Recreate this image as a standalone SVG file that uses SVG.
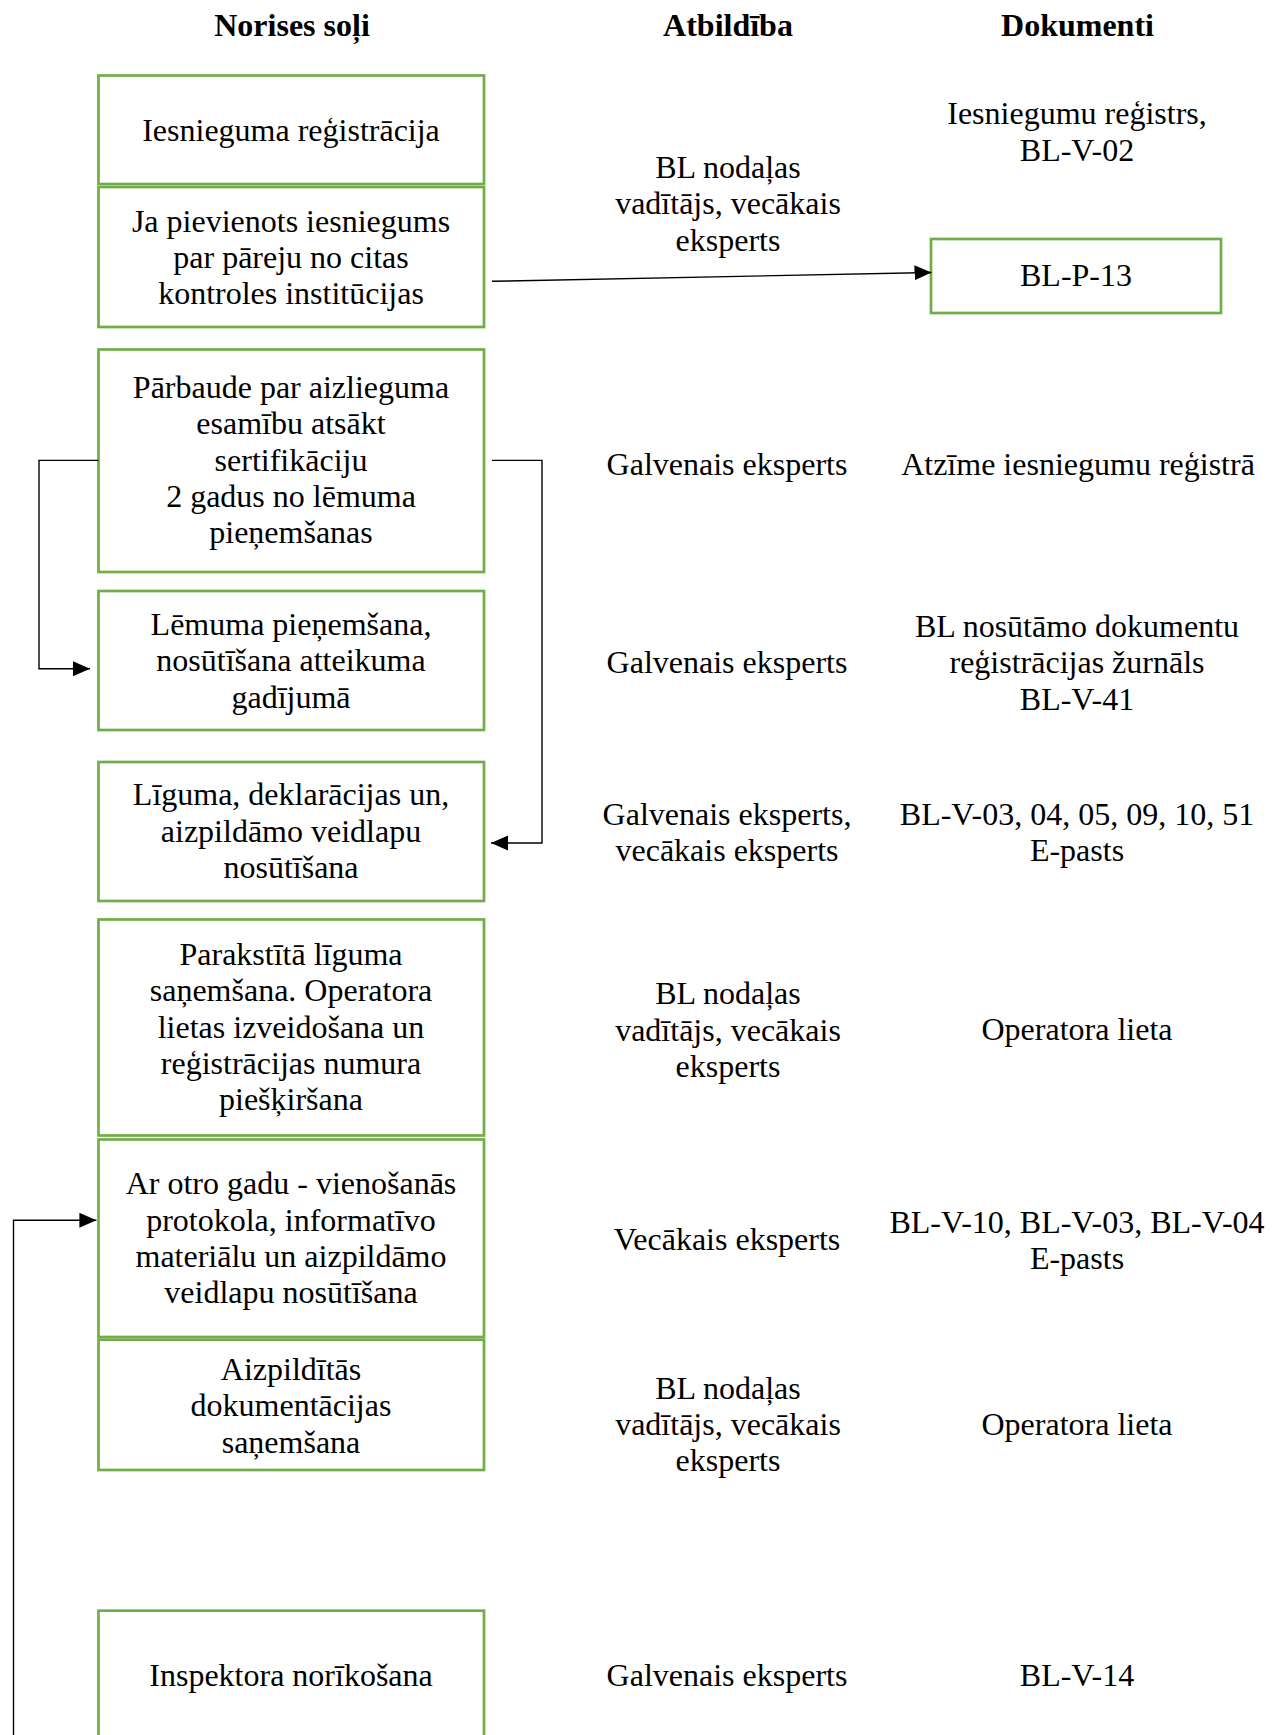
<svg xmlns="http://www.w3.org/2000/svg" width="1286" height="1735" viewBox="0 0 1286 1735">
<style>
text{font-family:"Liberation Serif","Times New Roman",serif;font-size:32px;fill:#000;text-anchor:middle}
.h{font-weight:bold}
.box{fill:#fff;stroke:#70AD47;stroke-width:2.7}
.con{fill:none;stroke:#000;stroke-width:1.4}
</style>
<defs>
<marker id="arr" markerUnits="userSpaceOnUse" markerWidth="18" markerHeight="16" refX="17" refY="7.5" orient="auto">
<path d="M0,0 L17,7.5 L0,15 Z" fill="#000"/>
</marker>
</defs>
<rect width="1286" height="1735" fill="#fff"/>
<g id="headers">
<text class="h" x="292" y="36.4">Norises soļi</text>
<text class="h" x="728" y="36.4">Atbildība</text>
<text class="h" x="1077.5" y="36.4">Dokumenti</text>
</g>
<g id="n1"><rect class="box" x="98.5" y="75.5" width="385.5" height="108.5"/><text x="291" y="140.8">Iesnieguma reģistrācija</text></g>
<g id="n2"><rect class="box" x="98.5" y="187" width="385.5" height="140"/><text x="291" y="231.5">Ja pievienots iesniegums</text><text x="291" y="268">par pāreju no citas</text><text x="291" y="304.2">kontroles institūcijas</text></g>
<g id="n3"><rect class="box" x="98.5" y="349.5" width="385.5" height="222.5"/><text x="291" y="398">Pārbaude par aizlieguma</text><text x="291" y="434.4">esamību atsākt</text><text x="291" y="470.7">sertifikāciju</text><text x="291" y="507">2 gadus no lēmuma</text><text x="291" y="543.4">pieņemšanas</text></g>
<g id="n4"><rect class="box" x="98.5" y="591" width="385.5" height="139"/><text x="291" y="635">Lēmuma pieņemšana,</text><text x="291" y="671.4">nosūtīšana atteikuma</text><text x="291" y="707.8">gadījumā</text></g>
<g id="n5"><rect class="box" x="98.5" y="762" width="385.5" height="139"/><text x="291" y="805.4">Līguma, deklarācijas un,</text><text x="291" y="841.7">aizpildāmo veidlapu</text><text x="291" y="878">nosūtīšana</text></g>
<g id="n6"><rect class="box" x="98.5" y="919.5" width="385.5" height="216"/><text x="291" y="965">Parakstītā līguma</text><text x="291" y="1001.3">saņemšana. Operatora</text><text x="291" y="1037.7">lietas izveidošana un</text><text x="291" y="1074">reģistrācijas numura</text><text x="291" y="1110.4">piešķiršana</text></g>
<g id="n7"><rect class="box" x="98.5" y="1139.5" width="385.5" height="197.5"/><text x="291" y="1194.3">Ar otro gadu - vienošanās</text><text x="291" y="1230.7">protokola, informatīvo</text><text x="291" y="1267">materiālu un aizpildāmo</text><text x="291" y="1303.4">veidlapu nosūtīšana</text></g>
<g id="n8"><rect class="box" x="98.5" y="1339.7" width="385.5" height="130.3"/><text x="291" y="1380">Aizpildītās</text><text x="291" y="1416.3">dokumentācijas</text><text x="291" y="1452.6">saņemšana</text></g>
<g id="n9"><rect class="box" x="98.5" y="1610.7" width="385.5" height="160"/><text x="291" y="1686">Inspektora norīkošana</text></g>
<g id="d2"><rect class="box" x="931" y="239" width="290" height="74"/><text x="1076" y="286.3">BL-P-13</text></g>
<g id="resp">
<text x="728" y="178">BL nodaļas</text><text x="728" y="214.3">vadītājs, vecākais</text><text x="728" y="250.7">eksperts</text>
<text x="727" y="474.6">Galvenais eksperts</text>
<text x="727" y="673.3">Galvenais eksperts</text>
<text x="727" y="824.5">Galvenais eksperts,</text><text x="727" y="860.9">vecākais eksperts</text>
<text x="728" y="1004.4">BL nodaļas</text><text x="728" y="1040.7">vadītājs, vecākais</text><text x="728" y="1077">eksperts</text>
<text x="727" y="1249.8">Vecākais eksperts</text>
<text x="728" y="1399">BL nodaļas</text><text x="728" y="1435.4">vadītājs, vecākais</text><text x="728" y="1471">eksperts</text>
<text x="727" y="1686">Galvenais eksperts</text>
</g>
<g id="docs">
<text x="1077" y="124.4">Iesniegumu reģistrs,</text><text x="1077" y="160.7">BL-V-02</text>
<text x="1078" y="474.6">Atzīme iesniegumu reģistrā</text>
<text x="1077" y="637">BL nosūtāmo dokumentu</text><text x="1077" y="673.3">reģistrācijas žurnāls</text><text x="1077" y="709.7">BL-V-41</text>
<text x="1077" y="824.5">BL-V-03, 04, 05, 09, 10, 51</text><text x="1077" y="860.9">E-pasts</text>
<text x="1077" y="1040">Operatora lieta</text>
<text x="1077" y="1232.6">BL-V-10, BL-V-03, BL-V-04</text><text x="1077" y="1269">E-pasts</text>
<text x="1077" y="1435.4">Operatora lieta</text>
<text x="1077" y="1686">BL-V-14</text>
</g>
<g id="connectors">
<line class="con" x1="492" y1="281.3" x2="931.5" y2="272.5" marker-end="url(#arr)"/>
<polyline class="con" points="98.5,460.4 39,460.4 39,668.7 90,668.7" marker-end="url(#arr)"/>
<polyline class="con" points="492,460.4 542,460.4 542,843 491,843" marker-end="url(#arr)"/>
<polyline class="con" points="13.5,1760 13.5,1220.3 96.4,1220.3" marker-end="url(#arr)"/>
</g>
</svg>
